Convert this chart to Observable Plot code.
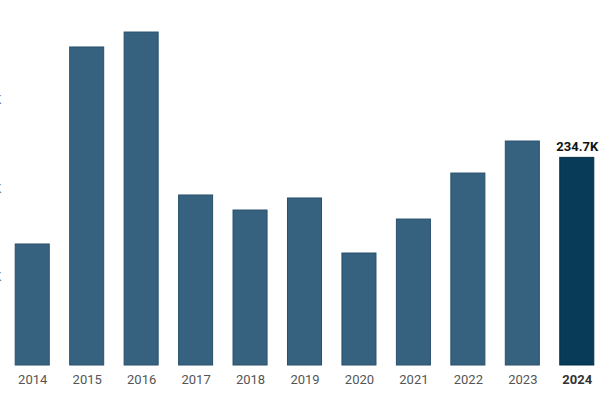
<!DOCTYPE html>
<html>
<head>
<meta charset="utf-8">
<script src="https://cdn.jsdelivr.net/npm/d3@7"></script>
<script src="https://cdn.jsdelivr.net/npm/@observablehq/plot@0.6"></script>
<style>
  html, body { margin: 0; padding: 0; background: #fff; overflow: hidden; }
  svg { font-family: Roboto, "Noto Sans", sans-serif; }
</style>
</head>
<body>
<div id="chart"></div>
<script>
const years = ["2014","2015","2016","2017","2018","2019","2020","2021","2022","2023","2024"];
const values = [136800, 359500, 376400, 192200, 175200, 188800, 126600, 165000, 217000, 253200, 234700];
const yTicks = [100000, 200000, 300000];
const highlightYear = "2024";
const highlightLabel = "234.7K";

const data = years.map((y, i) => ({year: y, value: values[i]}));

const chart = Plot.plot({
  width: 615,
  height: 410,
  marginLeft: 7,
  marginRight: 15,
  marginTop: 20,
  marginBottom: 45,
  style: {fontFamily: "Roboto, sans-serif", fontSize: "13px", overflow: "hidden"},
  x: {domain: years, range: [5, 604], round: false, paddingInner: 0.375, paddingOuter: 0.1875, label: null},
  y: {domain: [0, 390000], label: null},
  marks: [
    Plot.ruleY(yTicks, {x1: 7, x2: 600, stroke: "#e4e4e4", strokeWidth: 1.5}),
    Plot.axisY({ticks: yTicks, tickSize: 0, tickPadding: 6, tickFormat: d => d / 1000 + "K", fill: "#777", label: null}),
    Plot.barY(data, {
      x: "year", y: "value",
      fill: d => d.year === highlightYear ? "#073b57" : "#37627f",
      stroke: d => d.year === highlightYear ? "#052f47" : "#28506d",
      strokeWidth: 1
    }),
    Plot.ruleY([0], {x1: 7, x2: 600, stroke: "#333", strokeWidth: 2}),
    Plot.axisX(years.filter(y => y !== highlightYear), {
      tickSize: 0, tickPadding: 9, label: null, fill: "#555"
    }),
    Plot.axisX([highlightYear], {
      tickSize: 0, tickPadding: 9, label: null, fill: "#333", fontWeight: "bold"
    }),
    Plot.text(data.filter(d => d.year === highlightYear), {
      x: "year", y: "value", text: () => highlightLabel,
      dy: -7, lineAnchor: "bottom", fontWeight: "bold", fill: "#111", fontSize: 13
    })
  ]
});
document.getElementById("chart").append(chart);
</script>
</body>
</html>
